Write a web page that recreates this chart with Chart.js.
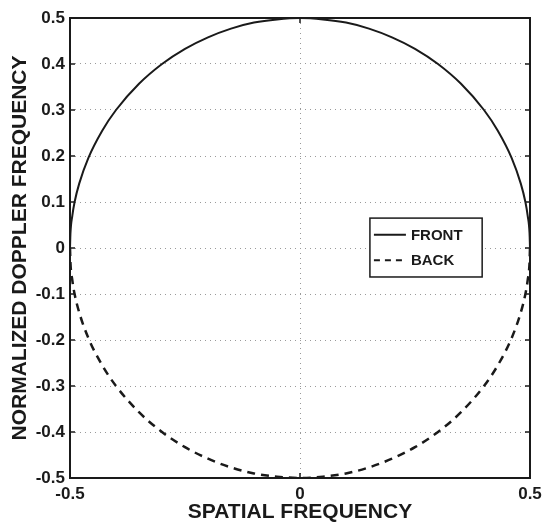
<!DOCTYPE html>
<html>
<head>
<meta charset="utf-8">
<script src="https://cdn.jsdelivr.net/npm/chart.js@4/dist/chart.umd.min.js"></script>
<style>
  html, body { margin: 0; padding: 0; background: #fff; }
  #wrap { width: 549px; height: 527px; }
</style>
</head>
<body>
<div id="wrap"><canvas id="dopplerChart" width="549" height="527"></canvas></div>
<script>
// Spatial frequency samples (x)
const spatialFreq = [-0.5, -0.499, -0.495, -0.49, -0.48, -0.46, -0.43, -0.4, -0.35, -0.3, -0.25, -0.2, -0.15, -0.1, -0.05, 0,
                     0.05, 0.1, 0.15, 0.2, 0.25, 0.3, 0.35, 0.4, 0.43, 0.46, 0.48, 0.49, 0.495, 0.499, 0.5];
// Front (solid) doppler values
const frontDoppler = [0, 0.032, 0.07, 0.1, 0.14, 0.196, 0.255, 0.3, 0.357, 0.4, 0.433, 0.458, 0.477, 0.49, 0.497, 0.5,
                      0.497, 0.49, 0.477, 0.458, 0.433, 0.4, 0.357, 0.3, 0.255, 0.196, 0.14, 0.1, 0.07, 0.032, 0];
// Back (dashed) doppler values
const backDoppler = [0, -0.032, -0.07, -0.1, -0.14, -0.196, -0.255, -0.3, -0.357, -0.4, -0.433, -0.458, -0.477, -0.49, -0.497, -0.5,
                     -0.497, -0.49, -0.477, -0.458, -0.433, -0.4, -0.357, -0.3, -0.255, -0.196, -0.14, -0.1, -0.07, -0.032, 0];
const xTickValues = [-0.5, 0, 0.5];
const yTickValues = [-0.5, -0.4, -0.3, -0.2, -0.1, 0, 0.1, 0.2, 0.3, 0.4, 0.5];
const legendLabels = ['FRONT', 'BACK'];

const FONT = "'Liberation Sans', Arial, sans-serif";
const INK = '#1a1a1a';
const GRID = '#9a9a9a';

// Box round the plot, small inward ticks, and the legend box
const framePlugin = {
    id: 'frame',
    afterDatasetsDraw(chart) {
        const { ctx, chartArea: a, scales } = chart;
        ctx.save();
        ctx.strokeStyle = INK;
        ctx.lineWidth = 2;
        ctx.strokeRect(a.left, a.top, a.right - a.left, a.bottom - a.top);

        // inward tick marks
        ctx.lineWidth = 1.5;
        yTickValues.forEach(v => {
            const py = scales.y.getPixelForValue(v);
            ctx.beginPath();
            ctx.moveTo(a.left, py); ctx.lineTo(a.left + 5, py);
            ctx.moveTo(a.right, py); ctx.lineTo(a.right - 5, py);
            ctx.stroke();
        });
        xTickValues.forEach(v => {
            const px = scales.x.getPixelForValue(v);
            ctx.beginPath();
            ctx.moveTo(px, a.bottom); ctx.lineTo(px, a.bottom - 5);
            ctx.moveTo(px, a.top); ctx.lineTo(px, a.top + 5);
            ctx.stroke();
        });

        // legend
        const lx = scales.x.getPixelForValue(0.152);
        const rx = scales.x.getPixelForValue(0.396);
        const ty = scales.y.getPixelForValue(0.065);
        const by = scales.y.getPixelForValue(-0.063);
        ctx.fillStyle = '#fff';
        ctx.fillRect(lx, ty, rx - lx, by - ty);
        ctx.lineWidth = 1.5;
        ctx.strokeRect(lx, ty, rx - lx, by - ty);

        const rowH = (by - ty) / 2;
        ctx.font = 'bold 15px ' + FONT;
        ctx.fillStyle = INK;
        ctx.textBaseline = 'middle';
        legendLabels.forEach((label, i) => {
            const cy = ty + rowH * (i + 0.5) + (i === 0 ? 2 : -2);
            ctx.beginPath();
            ctx.lineWidth = 2;
            ctx.setLineDash(i === 0 ? [] : [6, 5]);
            ctx.moveTo(lx + 4, cy);
            ctx.lineTo(lx + 36, cy);
            ctx.stroke();
            ctx.setLineDash([]);
            ctx.fillText(label, lx + 41, cy + 1);
        });
        ctx.restore();
    }
};

const toPoints = ys => spatialFreq.map((x, i) => ({ x: x, y: ys[i] }));

new Chart(document.getElementById('dopplerChart').getContext('2d'), {
    type: 'scatter',
    data: {
        datasets: [
            {
                label: 'FRONT',
                data: toPoints(frontDoppler),
                showLine: true,
                borderColor: INK,
                borderWidth: 2,
                pointRadius: 0,
                cubicInterpolationMode: 'monotone'
            },
            {
                label: 'BACK',
                data: toPoints(backDoppler),
                showLine: true,
                borderColor: INK,
                borderWidth: 2.5,
                borderDash: [8, 6],
                pointRadius: 0,
                cubicInterpolationMode: 'monotone'
            }
        ]
    },
    options: {
        responsive: false,
        animation: false,
        layout: { padding: { left: 0, right: 19, top: 18, bottom: 0 } },
        plugins: {
            legend: { display: false },
            tooltip: { enabled: false }
        },
        scales: {
            x: {
                type: 'linear',
                min: -0.5,
                max: 0.5,
                afterBuildTicks: s => { s.ticks = xTickValues.map(v => ({ value: v })); },
                afterFit: s => { s.height = 49; },
                border: { display: false, dash: [1, 4] },
                grid: {
                    drawTicks: false,
                    color: c => (c.tick && c.tick.value === 0) ? GRID : 'transparent',
                    lineWidth: 1
                },
                ticks: {
                    padding: 6,
                    color: INK,
                    font: { family: FONT, size: 17, weight: 'bold' },
                    callback: v => v === 0 ? '0' : String(v)
                },
                title: {
                    display: true,
                    text: 'SPATIAL FREQUENCY',
                    color: INK,
                    font: { family: FONT, size: 21, weight: 'bold' },
                    padding: { top: 2, bottom: 2 }
                }
            },
            y: {
                type: 'linear',
                min: -0.5,
                max: 0.5,
                afterBuildTicks: s => { s.ticks = yTickValues.map(v => ({ value: v })); },
                afterFit: s => { s.width = 70; },
                border: { display: false, dash: [1, 4] },
                grid: {
                    drawTicks: false,
                    color: GRID,
                    lineWidth: 1
                },
                ticks: {
                    padding: 5,
                    color: INK,
                    font: { family: FONT, size: 17, weight: 'bold' },
                    callback: v => v === 0 ? '0' : String(v)
                },
                title: {
                    display: true,
                    text: 'NORMALIZED DOPPLER FREQUENCY',
                    color: INK,
                    font: { family: FONT, size: 21, weight: 'bold' },
                    padding: { top: 8, bottom: 8 }
                }
            }
        }
    },
    plugins: [framePlugin]
});
</script>
</body>
</html>
